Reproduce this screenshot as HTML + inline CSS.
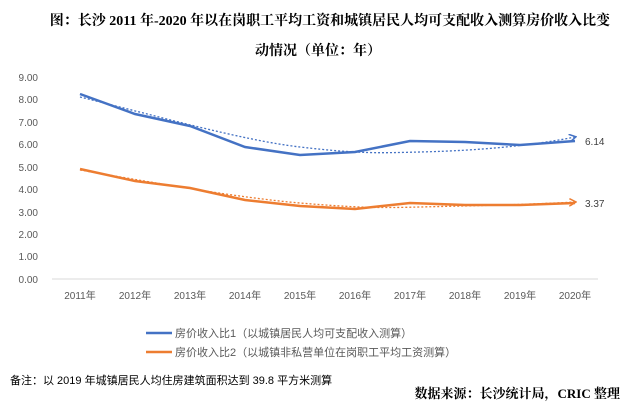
<!DOCTYPE html>
<html><head><meta charset="utf-8"><style>
body{margin:0;background:#fff;width:633px;height:403px;overflow:hidden;font-family:"Liberation Sans","Noto Sans CJK SC",sans-serif}
</style></head><body>
<svg width="633" height="403" xmlns="http://www.w3.org/2000/svg" font-family="Liberation Sans, Noto Sans CJK SC, sans-serif">
<text x="330" y="25" text-anchor="middle" font-size="14" font-weight="bold" font-family="Liberation Serif, Noto Serif CJK SC, serif">图：长沙 2011 年-2020 年以在岗职工平均工资和城镇居民人均可支配收入测算房价收入比变</text>
<text x="318" y="55" text-anchor="middle" font-size="14" font-weight="bold" font-family="Liberation Serif, Noto Serif CJK SC, serif">动情况（单位：年）</text>
<g font-size="10" fill="#595959" text-anchor="end">
<text x="38" y="81">9.00</text><text x="38" y="103">8.00</text><text x="38" y="126">7.00</text><text x="38" y="148">6.00</text><text x="38" y="171">5.00</text><text x="38" y="193">4.00</text><text x="38" y="216">3.00</text><text x="38" y="238">2.00</text><text x="38" y="260">1.00</text><text x="38" y="283">0.00</text>
</g>
<line x1="52" y1="279" x2="598" y2="279" stroke="#d9d9d9"/>
<g font-size="10" fill="#595959" text-anchor="middle">
<text x="80" y="299">2011年</text><text x="135" y="299">2012年</text><text x="190" y="299">2013年</text><text x="245" y="299">2014年</text><text x="300" y="299">2015年</text><text x="355" y="299">2016年</text><text x="410" y="299">2017年</text><text x="465" y="299">2018年</text><text x="520" y="299">2019年</text><text x="575" y="299">2020年</text>
</g>
<defs>
<marker id="ab" markerWidth="8" markerHeight="8" refX="6" refY="4" orient="auto" markerUnits="userSpaceOnUse"><path d="M0,0 L7,4 L0,8" fill="none" stroke="#4472c4" stroke-width="1.5"/></marker>
<marker id="ao" markerWidth="8" markerHeight="8" refX="6" refY="4" orient="auto" markerUnits="userSpaceOnUse"><path d="M0,0 L7,4 L0,8" fill="none" stroke="#ed7d31" stroke-width="1.5"/></marker>
</defs>
<path d="M80,97 C150,114 240,140 300,147 S380,153 420,152 S520,148 575,137" fill="none" stroke="#4472c4" stroke-width="1.3" stroke-dasharray="2,2" marker-end="url(#ab)"/>
<path d="M80,170 C150,182 240,198 300,203 S380,208 420,207 S520,205 575,202" fill="none" stroke="#ed7d31" stroke-width="1.3" stroke-dasharray="2,2" marker-end="url(#ao)"/>
<polyline fill="none" stroke="#4472c4" stroke-width="2.5" points="80,94 135,114 190,126 245,147 300,155 355,152 410,141 465,142 520,145 575,141"/>
<polyline fill="none" stroke="#ed7d31" stroke-width="2.5" points="80,169 135,181 190,188 245,200 300,206 355,209 410,203 465,205 520,205 575,203"/>
<text x="585" y="145" font-size="10" fill="#404040">6.14</text>
<text x="585" y="207" font-size="10" fill="#404040">3.37</text>
<line x1="146" y1="333" x2="172" y2="333" stroke="#4472c4" stroke-width="2.5"/>
<line x1="146" y1="352" x2="172" y2="352" stroke="#ed7d31" stroke-width="2.5"/>
<text x="175" y="337" font-size="11" fill="#595959">房价收入比1（以城镇居民人均可支配收入测算）</text>
<text x="175" y="356" font-size="11" fill="#595959">房价收入比2（以城镇非私营单位在岗职工平均工资测算）</text>
<text x="10" y="384" font-size="11" fill="#000">备注：以 2019 年城镇居民人均住房建筑面积达到 39.8 平方米测算</text>
<text x="620" y="398" text-anchor="end" font-size="13" font-weight="bold" font-family="Liberation Serif, Noto Serif CJK SC, serif">数据来源：长沙统计局，CRIC 整理</text>
</svg>
</body></html>
